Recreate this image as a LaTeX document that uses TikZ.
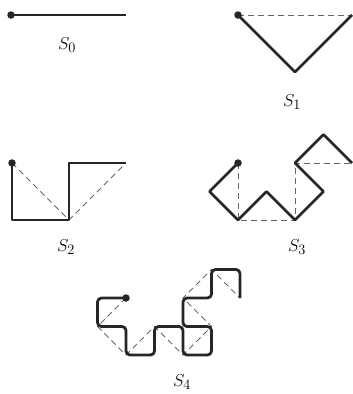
\documentclass[tikz,border=0pt]{standalone}
\begin{document}
\begin{tikzpicture}[x=1pt,y=-1pt,
  curve/.style={line width=2.8pt,line join=round,line cap=butt,black!85},
  guide/.style={line width=0.8pt,gray!80!black,dash pattern=on 6pt off 4pt},
  startdot/.style={circle,fill=black!85,inner sep=0pt,minimum size=7.5pt},
  lbl/.style={font=\fontsize{19}{22}\selectfont}]
\useasboundingbox (0,0) rectangle (353,394);
% S0
\coordinate (a0) at (11,15); \coordinate (b0) at (126,15);
\draw[curve] (a0) -- (b0);
\node[startdot] (d0) at (a0) {};
\node[lbl] (l0) at (67,45) {$S_0$};
% S1
\coordinate (a1) at (238,15); \coordinate (m1) at (295,72); \coordinate (b1) at (352,15);
\draw[guide] (a1) -- (b1);
\draw[curve] (a1) -- (m1) -- (b1);
\node[startdot] (d1) at (a1) {};
\node[lbl] (l1) at (292,102) {$S_1$};
% S2
\coordinate (a2) at (12,163); \coordinate (m2) at (69,220); \coordinate (b2) at (126,163);
\draw[guide] (a2) -- (m2) -- (b2);
\draw[curve] (a2) -- (12,220) -- (m2) -- (69,163) -- (b2);
\node[startdot] (d2) at (a2) {};
\node[lbl] (l2) at (66,247) {$S_2$};
% S3
\coordinate (a3) at (238,163); \coordinate (b3) at (352,163);
\draw[guide] (a3) -- (238,220) -- (295,220) -- (295,163) -- (b3);
\draw[curve] (a3) -- (209.5,191.5) -- (238,220) -- (266.5,191.5) -- (295,220)
  -- (323.5,191.5) -- (295,163) -- (323.5,134.5) -- (b3);
\node[startdot] (d3) at (a3) {};
\node[lbl] (l3) at (297,247) {$S_3$};
% S4
\coordinate (a4) at (126,298); \coordinate (b4) at (240,298);
\draw[guide] (a4) -- (97.5,326.5) -- (126,355) -- (154.5,326.5) -- (183,355)
  -- (211.5,326.5) -- (183,298) -- (211.5,269.5) -- (b4);
\draw[curve,rounded corners=4pt] (a4) -- (97.5,298) -- (97.5,326.5) -- (126,326.5)
  -- (126,355) -- (154.5,355) -- (154.5,326.5) -- (183,326.5) -- (183,355)
  -- (211.5,355) -- (211.5,326.5) -- (183,326.5) -- (183,298) -- (211.5,298)
  -- (211.5,269.5) -- (240,269.5) -- (b4);
\node[startdot] (d4) at (a4) {};
\node[lbl] (l4) at (182,382) {$S_4$};
\end{tikzpicture}
\end{document}
